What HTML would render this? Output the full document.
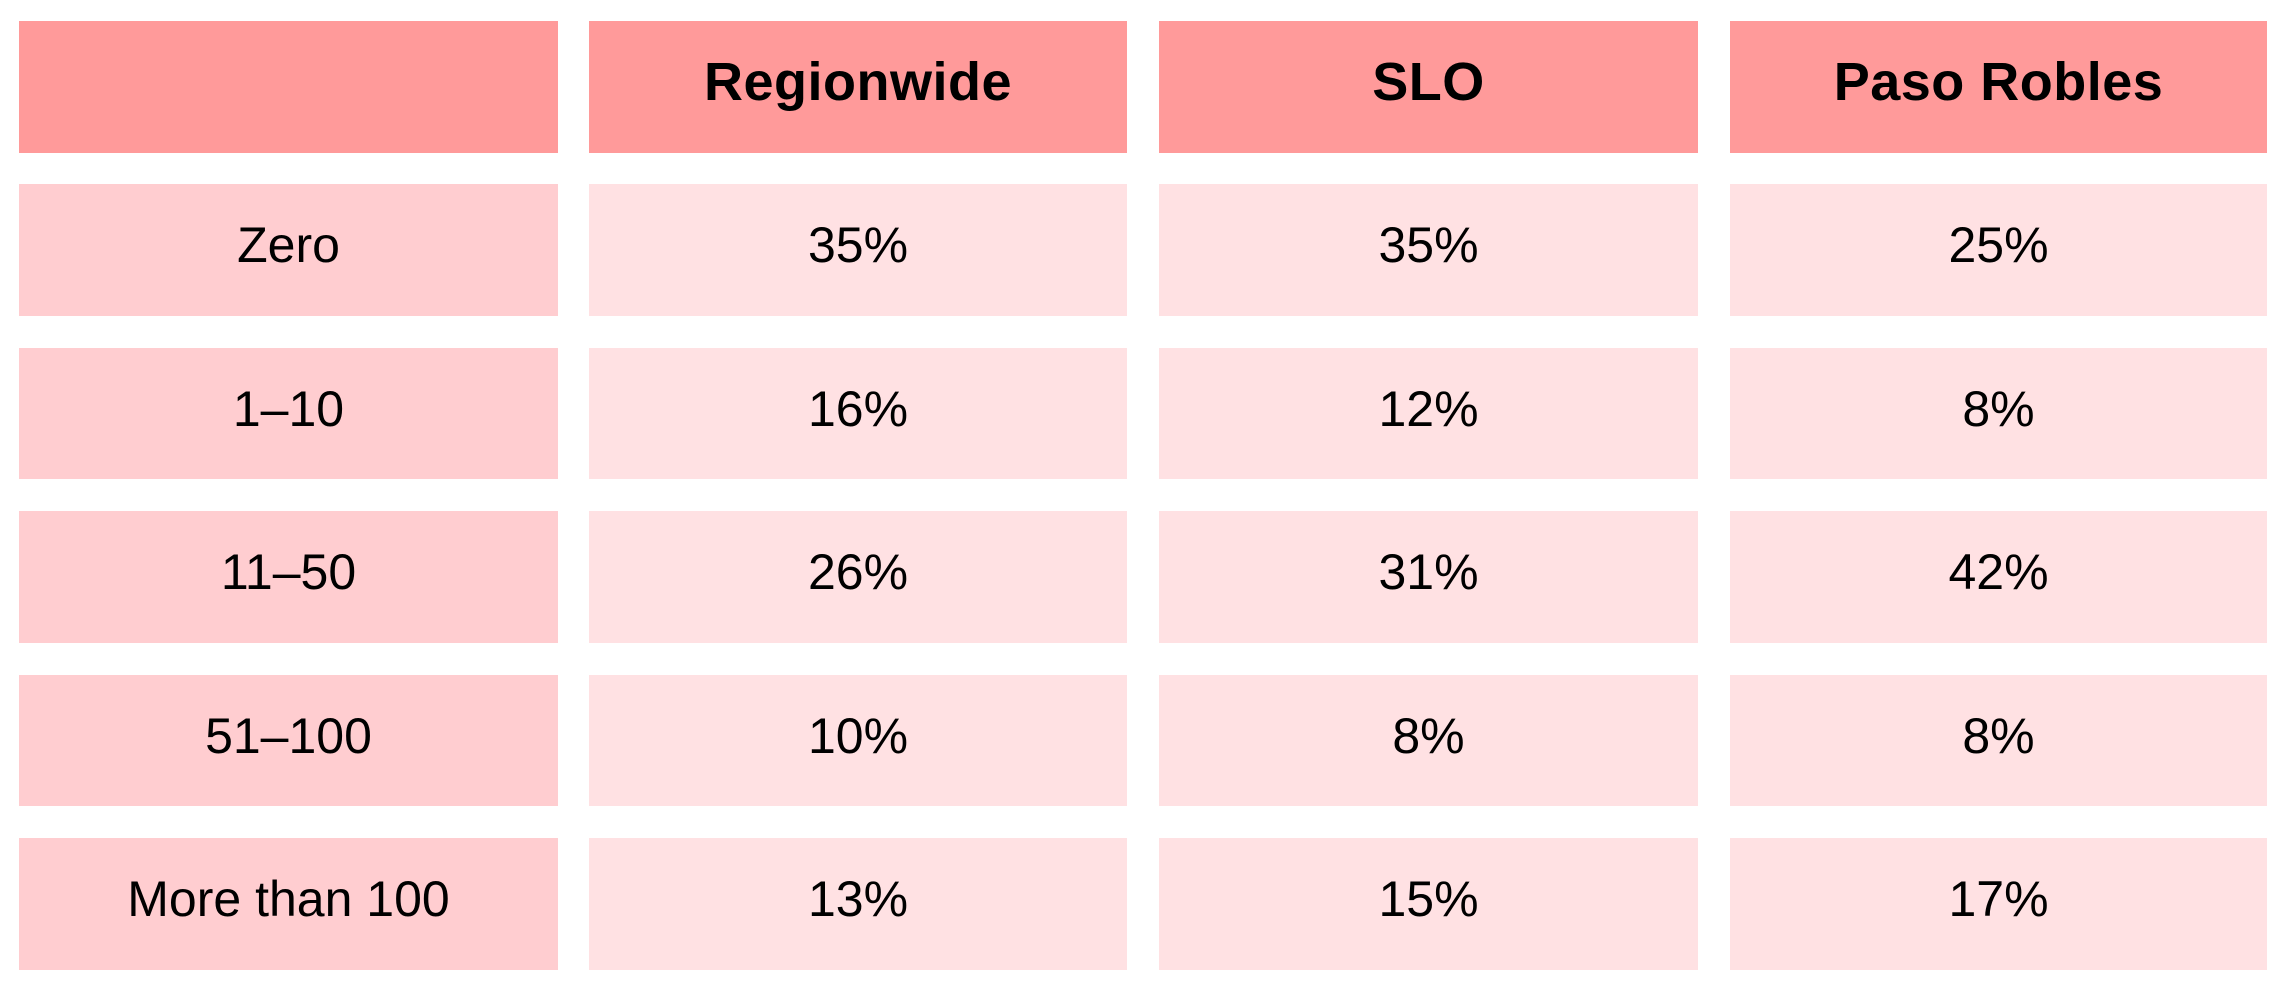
<!DOCTYPE html>
<html><head><style>
body{margin:0;width:2289px;height:996px;background:#fff;position:relative;overflow:hidden;font-family:"Liberation Sans",sans-serif;}
.c{position:absolute;display:flex;align-items:center;justify-content:center;font-size:50px;color:#000;box-sizing:border-box;padding-bottom:10px;}
.h{background:#ff9a9a;font-weight:bold;font-size:54px;letter-spacing:0.5px;}
.l{background:#ffcdd0;}
.d{background:#ffe1e3;}
</style></head><body>
<div class="c h" style="left:19px;top:21px;width:539px;height:132px"></div>
<div class="c h" style="left:589px;top:21px;width:538px;height:132px">Regionwide</div>
<div class="c h" style="left:1159px;top:21px;width:539px;height:132px">SLO</div>
<div class="c h" style="left:1730px;top:21px;width:537px;height:132px">Paso Robles</div>

<div class="c l" style="left:19px;top:184px;width:539px;height:132px">Zero</div>
<div class="c d" style="left:589px;top:184px;width:538px;height:132px">35%</div>
<div class="c d" style="left:1159px;top:184px;width:539px;height:132px">35%</div>
<div class="c d" style="left:1730px;top:184px;width:537px;height:132px">25%</div>

<div class="c l" style="left:19px;top:348px;width:539px;height:131px">1–10</div>
<div class="c d" style="left:589px;top:348px;width:538px;height:131px">16%</div>
<div class="c d" style="left:1159px;top:348px;width:539px;height:131px">12%</div>
<div class="c d" style="left:1730px;top:348px;width:537px;height:131px">8%</div>

<div class="c l" style="left:19px;top:511px;width:539px;height:132px">11–50</div>
<div class="c d" style="left:589px;top:511px;width:538px;height:132px">26%</div>
<div class="c d" style="left:1159px;top:511px;width:539px;height:132px">31%</div>
<div class="c d" style="left:1730px;top:511px;width:537px;height:132px">42%</div>

<div class="c l" style="left:19px;top:675px;width:539px;height:131px">51–100</div>
<div class="c d" style="left:589px;top:675px;width:538px;height:131px">10%</div>
<div class="c d" style="left:1159px;top:675px;width:539px;height:131px">8%</div>
<div class="c d" style="left:1730px;top:675px;width:537px;height:131px">8%</div>

<div class="c l" style="left:19px;top:838px;width:539px;height:132px">More than 100</div>
<div class="c d" style="left:589px;top:838px;width:538px;height:132px">13%</div>
<div class="c d" style="left:1159px;top:838px;width:539px;height:132px">15%</div>
<div class="c d" style="left:1730px;top:838px;width:537px;height:132px">17%</div>
</body></html>
